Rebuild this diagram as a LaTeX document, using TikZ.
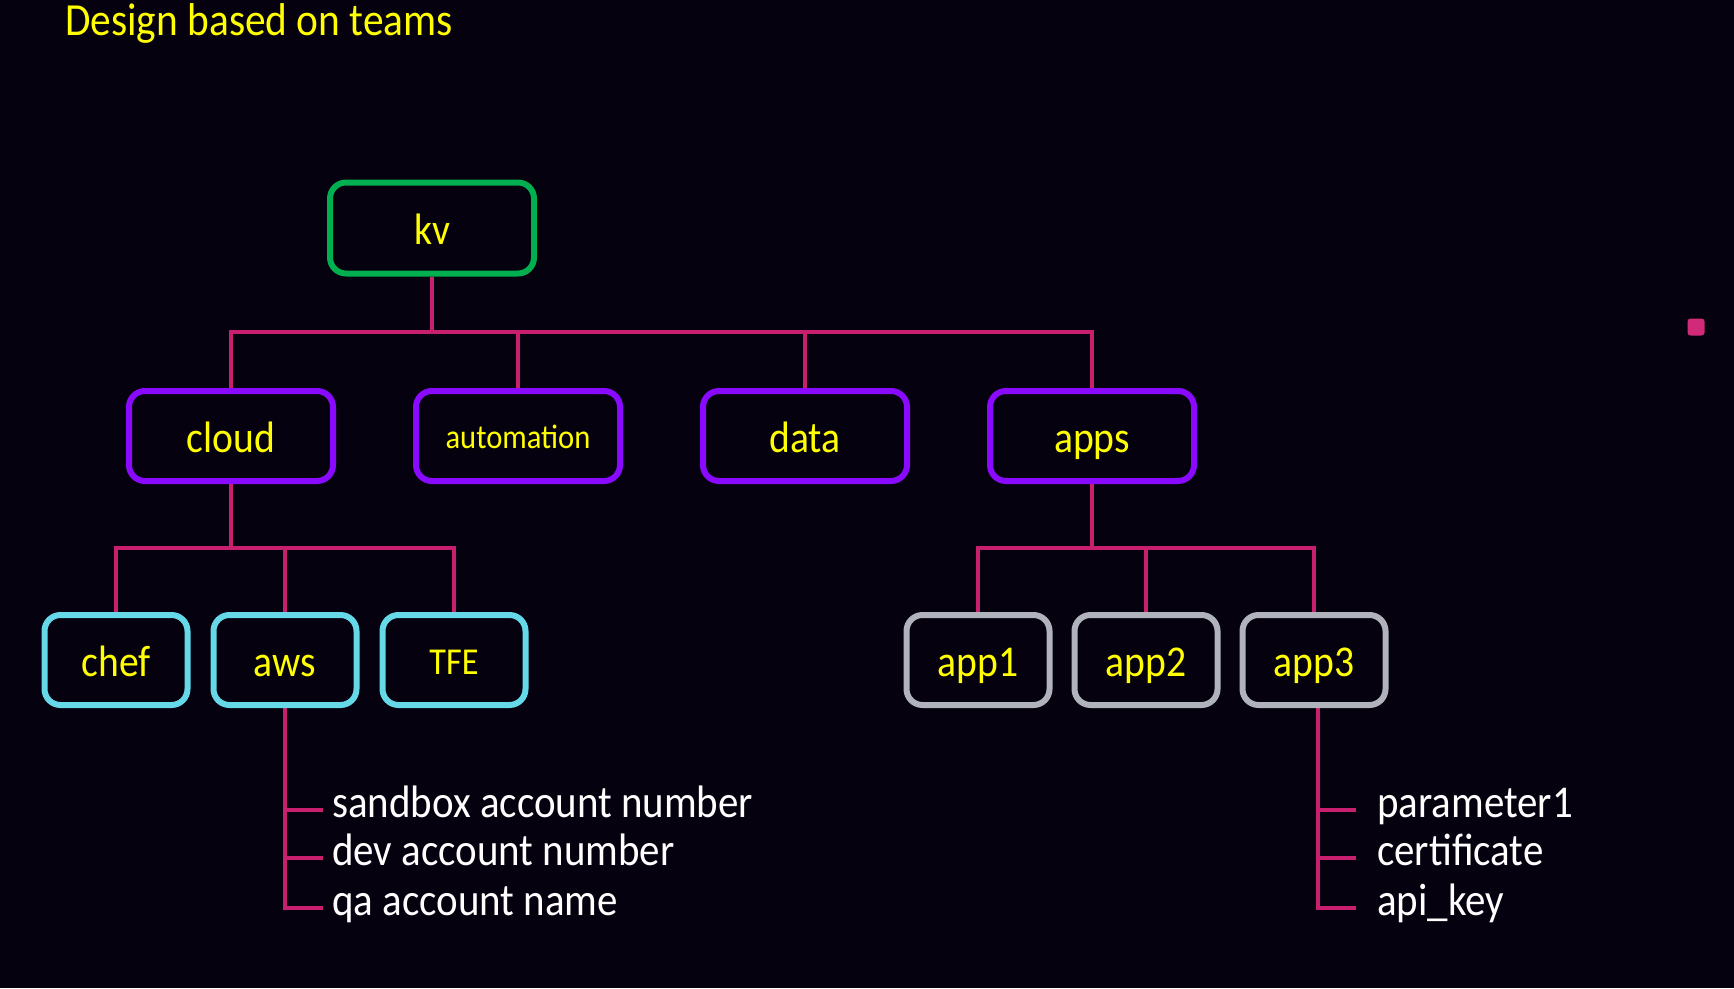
\documentclass[tikz,border=0pt]{standalone}
\usepackage{fontspec}
\setmainfont{Carlito}[FakeStretch=0.9]
\definecolor{bgc}{HTML}{06010E}
\definecolor{kvgreen}{HTML}{00B050}
\definecolor{purp}{HTML}{8A0AFF}
\definecolor{cyanc}{HTML}{66D9E8}
\definecolor{grayc}{HTML}{B0B3BB}
\definecolor{pinkc}{HTML}{C8206E}
\definecolor{sqc}{HTML}{D02A78}
\definecolor{ylw}{HTML}{FFFF00}
\pgfdeclarelayer{back}
\pgfdeclarelayer{lines}
\pgfsetlayers{back,lines,main}
\tikzset{
  box/.style={draw, line width=6pt, rounded corners=16pt, fill=bgc, text=ylw, inner sep=0pt, text depth=0pt},
  bigtxt/.style={font=\fontsize{44}{50}\selectfont, text height=32pt},
  midtxt/.style={font=\fontsize{38}{45}\selectfont, text height=28pt},
  smalltxt/.style={font=\fontsize{34}{40}\selectfont, text height=25pt},
  kvbox/.style={box, bigtxt, draw=kvgreen, minimum width=204pt, minimum height=91pt},
  teambox/.style={box, bigtxt, draw=purp, minimum width=204pt, minimum height=90pt},
  leafbox/.style={box, bigtxt, draw=cyanc, minimum width=143pt, minimum height=90pt},
  appbox/.style={box, bigtxt, draw=grayc, minimum width=143pt, minimum height=90pt},
  conn/.style={draw=pinkc, line width=3.5pt},
  item/.style={text=white, font=\fontsize{45.5}{52}\selectfont, inner ysep=0pt, text height=14pt, text depth=0pt, anchor=west},
}
\begin{document}
\begin{tikzpicture}[x=1pt,y=-1pt]
\begin{pgfonlayer}{back}
\fill[bgc] (0,0) rectangle (1734,988);
\end{pgfonlayer}
\useasboundingbox (0,0) rectangle (1734,988);

\node[anchor=base west, text=ylw, font=\fontsize{46}{55}\selectfont, inner sep=0pt] (title) at (65,35) {Design based on teams};

\node[kvbox] (kv) at (432,228) {kv};
\node[teambox] (cloud) at (231,436) {cloud};
\node[teambox, smalltxt] (automation) at (518,436) {automation};
\node[teambox] (data) at (805,436) {data};
\node[teambox] (apps) at (1092,436) {apps};

\node[leafbox] (chef) at (116,660) {chef};
\node[leafbox] (aws) at (285,660) {aws};
\node[leafbox, midtxt] (tfe) at (454,660) {TFE};
\node[appbox] (app1) at (978,660) {app1};
\node[appbox] (app2) at (1146,660) {app2};
\node[appbox] (app3) at (1314,660) {app3};

\node[item, inner xsep=9pt] (s1) at (323,810) {sandbox account number};
\node[item, inner xsep=9pt] (s2) at (323,858) {dev account number};
\node[item, inner xsep=9pt] (s3) at (323,908) {qa account name};

\node[item, inner xsep=21pt] (p1) at (1356,810) {parameter1};
\node[item, inner xsep=21pt] (p2) at (1356,858) {certificate};
\node[item, inner xsep=21pt] (p3) at (1356,908) {api\_key};

\node[fill=sqc, rounded corners=3pt, minimum size=17pt, inner sep=0pt] (dot) at (1696,327) {};

\coordinate (bus1) at (0,332);
\coordinate (bus2) at (0,548);
\coordinate (a3) at ([xshift=4pt]app3.south);

\begin{pgfonlayer}{lines}
\foreach \c in {cloud,automation,data,apps}
  \draw[conn] (kv.south) -- (kv.south |- bus1) -| (\c.north);
\foreach \c in {chef,aws,tfe}
  \draw[conn] (cloud.south) -- (cloud.south |- bus2) -| (\c.north);
\foreach \c in {app1,app2,app3}
  \draw[conn] (apps.south) -- (apps.south |- bus2) -| (\c.north);
\foreach \c in {s1,s2,s3}
  \draw[conn] (aws.south) |- (\c.west);
\foreach \c in {p1,p2,p3}
  \draw[conn] (a3) |- (\c.west);
\end{pgfonlayer}
\end{tikzpicture}
\end{document}
